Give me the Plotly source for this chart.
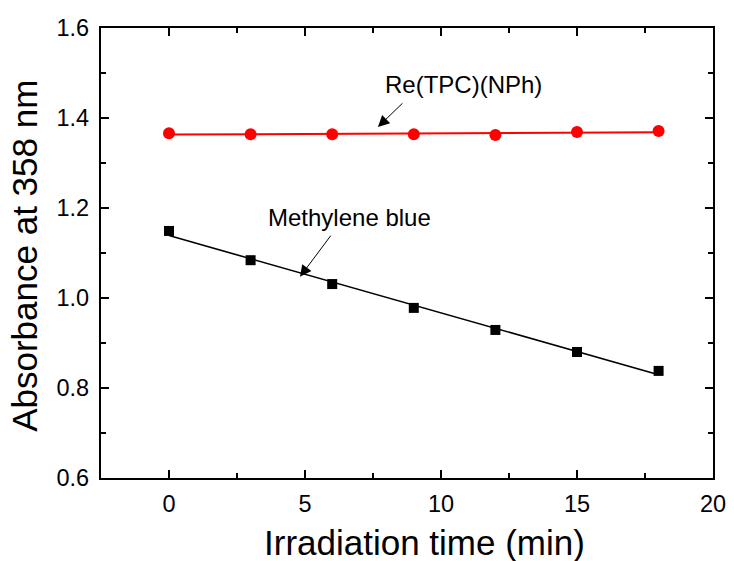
import numpy as np
import plotly.graph_objects as go

time_min = [0, 3, 6, 9, 12, 15, 18]
re_tpc_nph = [1.366, 1.364, 1.364, 1.364, 1.362, 1.369, 1.371]
methylene_blue = [1.149, 1.084, 1.031, 0.978, 0.929, 0.880, 0.838]

x_ticks = [0, 5, 10, 15, 20]
y_ticks = [0.6, 0.8, 1.0, 1.2, 1.4, 1.6]

FONT = "Arial, Liberation Sans, sans-serif"

fig = go.Figure()

t = np.array(time_min, dtype=float)
for vals, color, sym, msize, lw in [
    (re_tpc_nph, "#ff0000", "circle", 12, 2),
    (methylene_blue, "#000000", "square", 10, 1.6),
]:
    k, b = np.polyfit(t, np.array(vals), 1)
    fig.add_trace(go.Scatter(x=[t[0], t[-1]], y=[k * t[0] + b, k * t[-1] + b],
                             mode="lines", line=dict(color=color, width=lw),
                             showlegend=False, hoverinfo="skip"))
    fig.add_trace(go.Scatter(x=time_min, y=vals, mode="markers",
                             marker=dict(color=color, symbol=sym, size=msize,
                                         line=dict(width=0)),
                             showlegend=False))

axis_common = dict(
    showgrid=False, zeroline=False, showline=True, linecolor="black",
    linewidth=2.2, mirror="allticks", ticks="inside", tickwidth=1.6,
    ticklen=8, tickcolor="black", automargin=False,
    tickfont=dict(family=FONT, size=23.5, color="black"),
)

fig.update_xaxes(range=[-2.5, 20], tickvals=x_ticks, ticklabelstandoff=4,
                 minor=dict(ticks="inside", ticklen=5, dtick=2.5, tick0=0,
                            tickwidth=1.6, tickcolor="black"),
                 **axis_common)
fig.update_yaxes(range=[0.6, 1.6], tickvals=y_ticks, tickformat=".1f",
                 ticklabelstandoff=5,
                 minor=dict(ticks="inside", ticklen=5, dtick=0.1, tick0=0.6,
                            tickwidth=1.6, tickcolor="black"),
                 **axis_common)

title_font = dict(family=FONT, size=35, color="black")
fig.add_annotation(x=0.529, y=-0.1444, xref="paper", yref="paper",
                   text="Irradiation time (min)", showarrow=False,
                   font=title_font, xanchor="center", yanchor="middle")
fig.add_annotation(x=-0.124, y=0.494, xref="paper", yref="paper",
                   text="Absorbance at 358 nm", showarrow=False, textangle=-90,
                   font=title_font, xanchor="center", yanchor="middle")

ann_font = dict(family=FONT, size=24, color="black")
fig.add_annotation(x=10.84, y=1.474, text="Re(TPC)(NPh)", showarrow=False,
                   font=ann_font, xref="x", yref="y")
fig.add_annotation(x=6.65, y=1.18, text="Methylene blue", showarrow=False,
                   font=ann_font, xref="x", yref="y")
fig.add_annotation(x=7.68, y=1.38, ax=8.64, ay=1.436, axref="x", ayref="y",
                   xref="x", yref="y", text="", showarrow=True, arrowhead=2,
                   arrowsize=2.3, arrowwidth=1, arrowcolor="black")
fig.add_annotation(x=4.815, y=1.047, ax=5.99, ay=1.142, axref="x", ayref="y",
                   xref="x", yref="y", text="", showarrow=True, arrowhead=2,
                   arrowsize=2.3, arrowwidth=1, arrowcolor="black")

fig.update_layout(width=734, height=561, plot_bgcolor="white",
                  paper_bgcolor="white",
                  margin=dict(l=101, r=21, t=28, b=83))

fig.write_html("out.html")
